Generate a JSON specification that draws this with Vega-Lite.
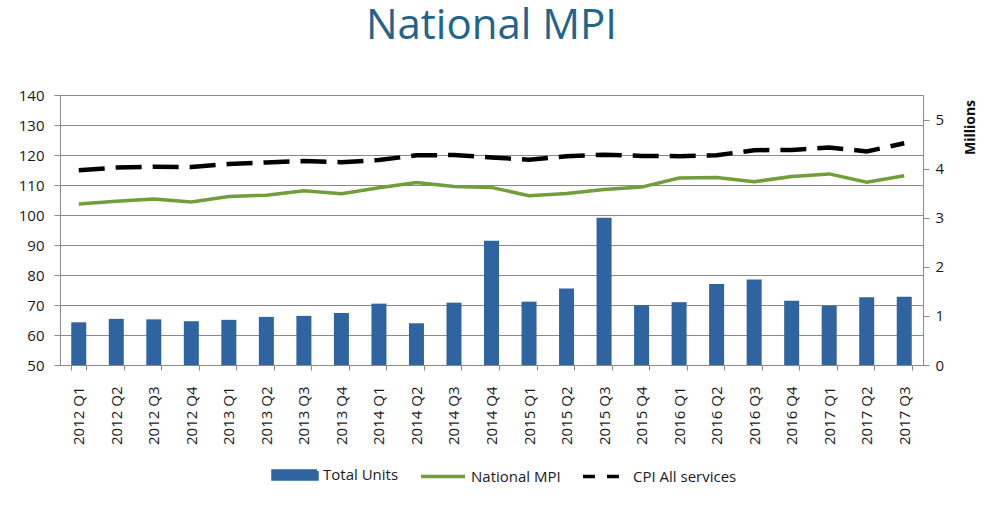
{
  "$schema": "https://vega.github.io/schema/vega-lite/v6.json",
  "autosize": {"type": "none"},
  "width": 863,
  "height": 270,
  "padding": {"left": 60, "top": 95, "right": 77, "bottom": 143},
  "background": "white",
  "title": {
    "text": "National MPI",
    "font": "Open Sans",
    "fontSize": 42,
    "fontWeight": "normal",
    "color": "#22648a",
    "anchor": "middle",
    "offset": 40
  },
  "config": {
    "view": {"stroke": null},
    "axis": {
      "labelFont": "Open Sans",
      "labelFontSize": 15,
      "labelColor": "#1a1a1a",
      "domainColor": "#8a8a8a",
      "tickColor": "#8a8a8a",
      "gridColor": "#8a8a8a",
      "gridOpacity": 1,
      "domainWidth": 1,
      "tickWidth": 1
    }
  },
  "data": {
    "values": [
      {"quarter": "2012 Q1", "units": 0.87, "mpi": 103.7, "cpi": 114.9},
      {"quarter": "2012 Q2", "units": 0.94, "mpi": 104.6, "cpi": 115.8},
      {"quarter": "2012 Q3", "units": 0.93, "mpi": 105.3, "cpi": 116.1},
      {"quarter": "2012 Q4", "units": 0.89, "mpi": 104.3, "cpi": 116.0},
      {"quarter": "2013 Q1", "units": 0.92, "mpi": 106.2, "cpi": 117.0},
      {"quarter": "2013 Q2", "units": 0.98, "mpi": 106.6, "cpi": 117.5},
      {"quarter": "2013 Q3", "units": 1.00, "mpi": 108.1, "cpi": 118.0},
      {"quarter": "2013 Q4", "units": 1.06, "mpi": 107.1, "cpi": 117.6},
      {"quarter": "2014 Q1", "units": 1.25, "mpi": 109.1, "cpi": 118.3},
      {"quarter": "2014 Q2", "units": 0.85, "mpi": 110.8, "cpi": 119.9},
      {"quarter": "2014 Q3", "units": 1.27, "mpi": 109.5, "cpi": 120.0},
      {"quarter": "2014 Q4", "units": 2.53, "mpi": 109.2, "cpi": 119.2},
      {"quarter": "2015 Q1", "units": 1.29, "mpi": 106.4, "cpi": 118.4},
      {"quarter": "2015 Q2", "units": 1.56, "mpi": 107.2, "cpi": 119.6},
      {"quarter": "2015 Q3", "units": 3.00, "mpi": 108.5, "cpi": 120.1},
      {"quarter": "2015 Q4", "units": 1.22, "mpi": 109.3, "cpi": 119.7},
      {"quarter": "2016 Q1", "units": 1.28, "mpi": 112.3, "cpi": 119.6},
      {"quarter": "2016 Q2", "units": 1.65, "mpi": 112.5, "cpi": 119.9},
      {"quarter": "2016 Q3", "units": 1.74, "mpi": 111.1, "cpi": 121.6},
      {"quarter": "2016 Q4", "units": 1.31, "mpi": 112.8, "cpi": 121.7},
      {"quarter": "2017 Q1", "units": 1.21, "mpi": 113.7, "cpi": 122.5},
      {"quarter": "2017 Q2", "units": 1.38, "mpi": 110.9, "cpi": 121.2},
      {"quarter": "2017 Q3", "units": 1.39, "mpi": 113.1, "cpi": 123.9}
    ]
  },
  "encoding": {
    "x": {
      "field": "quarter",
      "type": "ordinal",
      "sort": null,
      "scale": {"paddingInner": 0.6, "paddingOuter": 0.3},
      "axis": {
        "title": null,
        "labelAngle": -90,
        "labelAlign": "right",
        "labelBaseline": "middle",
        "tickBand": "extent",
        "tickSize": 5,
        "labelPadding": 16,
        "grid": false
      }
    }
  },
  "layer": [
    {
      "mark": {"type": "bar", "color": "#2f64a0"},
      "encoding": {
        "y": {
          "field": "units",
          "type": "quantitative",
          "scale": {"domain": [0, 5.5], "nice": false, "zero": true},
          "axis": {
            "orient": "right",
            "values": [0, 1, 2, 3, 4, 5],
            "grid": false,
            "tickSize": 6,
            "labelPadding": 6,
            "title": "Millions",
            "titleFont": "Open Sans",
            "titleFontSize": 14,
            "titleFontWeight": "bold",
            "titleColor": "#111111",
            "titleAngle": -90,
            "titleAlign": "center",
            "titleBaseline": "middle",
            "titleX": 47,
            "titleY": 32
          }
        },
        "color": {
          "datum": "Total Units",
          "scale": {
            "domain": ["Total Units", "National MPI", "CPI All services"],
            "range": ["#2f64a0", "#6f9e3a", "#000000"]
          },
          "legend": {
            "title": null,
            "orient": "none",
            "direction": "horizontal",
            "legendX": 211,
            "legendY": 356,
            "symbolType": "stroke",
            "symbolSize": 1936,
            "symbolStrokeWidth": 3.5,
            "labelFont": "Open Sans",
            "labelFontSize": 15,
            "labelColor": "#1a1a1a",
            "labelBaseline": "middle",
            "labelOffset": 4,
            "columnPadding": 15,
            "encode": {
              "symbols": {
                "update": {
                  "shape": {"signal": "datum.value === 'Total Units' ? 'M-1,-0.18H1V0.18H-1Z' : 'stroke'"},
                  "fill": {"signal": "datum.value === 'Total Units' ? '#2f64a0' : 'transparent'"},
                  "stroke": {"signal": "datum.value === 'Total Units' ? 'transparent' : scale('color', datum.value)"},
                  "strokeWidth": {"value": 3.5},
                  "strokeDash": {"signal": "datum.value === 'CPI All services' ? [12, 12] : [1, 0]"},
                  "opacity": {"value": 1}
                }
              }
            }
          }
        }
      }
    },
    {
      "encoding": {
        "y": {
          "type": "quantitative",
          "scale": {"domain": [50, 140], "nice": false, "zero": false},
          "axis": {
            "orient": "left",
            "values": [50, 60, 70, 80, 90, 100, 110, 120, 130, 140],
            "grid": true,
            "tickSize": 6,
            "labelPadding": 10,
            "title": null
          }
        }
      },
      "layer": [
        {
          "mark": {"type": "line", "strokeWidth": 3.5, "color": "#6f9e3a"},
          "encoding": {
            "y": {"field": "mpi", "type": "quantitative"},
            "color": {"datum": "National MPI"}
          }
        },
        {
          "mark": {"type": "line", "strokeWidth": 4.5, "strokeDash": [26, 11], "color": "#000000"},
          "encoding": {
            "y": {"field": "cpi", "type": "quantitative"},
            "color": {"datum": "CPI All services"}
          }
        }
      ]
    }
  ],
  "resolve": {"scale": {"y": "independent"}}
}
